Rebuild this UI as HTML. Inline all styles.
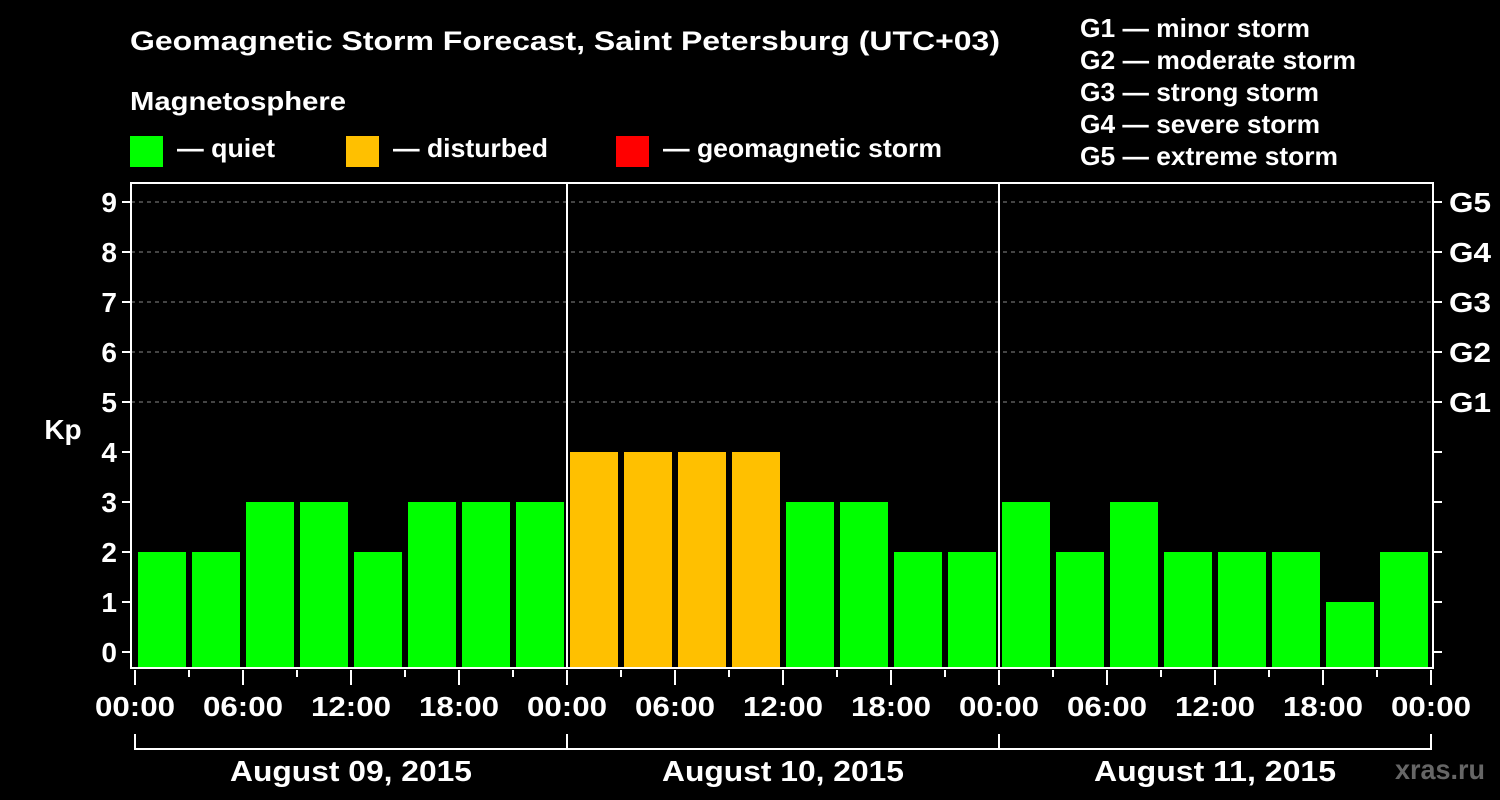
<!DOCTYPE html>
<html><head><meta charset="utf-8"><style>
html,body{margin:0;padding:0;background:#000;}
svg{display:block;font-family:"Liberation Sans",Arial,sans-serif;font-weight:bold;}
</style></head><body>
<svg id="c" width="1500" height="800" viewBox="0 0 1500 800">
<rect width="1500" height="800" fill="#000"/>
<text x="130" y="50" fill="#fff" font-size="27" textLength="870" lengthAdjust="spacingAndGlyphs">Geomagnetic Storm Forecast, Saint Petersburg (UTC+03)</text>
<text x="130" y="110" fill="#fff" font-size="26" textLength="216" lengthAdjust="spacingAndGlyphs">Magnetosphere</text>
<g><rect x="130" y="136" width="33" height="31" fill="#00ff00"/><text x="177" y="157" fill="#fff" font-size="26" textLength="98" lengthAdjust="spacingAndGlyphs">— quiet</text></g>
<g><rect x="346" y="136" width="33" height="31" fill="#ffc000"/><text x="393" y="157" fill="#fff" font-size="26" textLength="155" lengthAdjust="spacingAndGlyphs">— disturbed</text></g>
<g><rect x="616" y="136" width="33" height="31" fill="#ff0000"/><text x="663" y="157" fill="#fff" font-size="26" textLength="279" lengthAdjust="spacingAndGlyphs">— geomagnetic storm</text></g>
<g fill="#fff" font-size="26">
<text x="1080" y="37" textLength="230" lengthAdjust="spacingAndGlyphs">G1 — minor storm</text>
<text x="1080" y="69" textLength="276" lengthAdjust="spacingAndGlyphs">G2 — moderate storm</text>
<text x="1080" y="101" textLength="239" lengthAdjust="spacingAndGlyphs">G3 — strong storm</text>
<text x="1080" y="133" textLength="240" lengthAdjust="spacingAndGlyphs">G4 — severe storm</text>
<text x="1080" y="165" textLength="258" lengthAdjust="spacingAndGlyphs">G5 — extreme storm</text>
</g>
<text x="63" y="439" fill="#fff" font-size="28" text-anchor="middle">Kp</text>
<text x="1485" y="779" fill="#666" font-size="28" text-anchor="end" textLength="90" lengthAdjust="spacingAndGlyphs">xras.ru</text>
<g id="plot"></g>
</svg>
<script>
const kpValues=[2,2,3,3,2,3,3,3, 4,4,4,4,3,3,2,2, 3,2,3,2,2,2,1,2];
const dayLabels=["August 09, 2015","August 10, 2015","August 11, 2015"];
const timeLabels=["00:00","06:00","12:00","18:00"];
const gLabels=["G1","G2","G3","G4","G5"];
const yTicks=[0,1,2,3,4,5,6,7,8,9];

const NS="http://www.w3.org/2000/svg";
const g=document.getElementById('plot');
const L=131,R=1433,T=183,B=668,X0=135,DAY=432;
const y=v=>652-v*50;
const x=h=>X0+h*DAY/24;
function mk(t,a,p){const e=document.createElementNS(NS,t);for(const k in a)e.setAttribute(k,a[k]);(p||g).appendChild(e);return e;}
function color(v){return v>=5?'#ff0000':v>=4?'#ffc000':'#00ff00';}

yTicks.filter(v=>v>=5).forEach(v=>{
  const l=mk('line',{x1:L,x2:R,y1:y(v),y2:y(v),stroke:'#888','stroke-dasharray':'4,4','stroke-width':1});
  
  
});
kpValues.forEach((v,i)=>{
  const r=mk('rect',{x:x(i*3)+3,y:y(v),width:DAY/8-6,height:B-y(v),fill:color(v)});
  
  
});
for(let d=1;d<dayLabels.length;d++){
  const l=mk('line',{x1:x(d*24),x2:x(d*24),y1:T,y2:B,stroke:'#fff','stroke-width':2});
  
  
}
const fr=mk('rect',{x:L,y:T,width:R-L,height:B-T,fill:'none',stroke:'#fff','stroke-width':2});


yTicks.forEach(v=>{
  mk('line',{x1:L-9,x2:L,y1:y(v),y2:y(v),stroke:'#fff','stroke-width':2});
  mk('line',{x1:R,x2:R+9,y1:y(v),y2:y(v),stroke:'#fff','stroke-width':2});
  const t=mk('text',{x:117,y:y(v)+10,fill:'#fff','font-size':28,'text-anchor':'end'});
  t.textContent=v;
  
  
});
gLabels.forEach((s,i)=>{
  const t=mk('text',{x:1449,y:y(5+i)+10,fill:'#fff','font-size':28,textLength:42,lengthAdjust:'spacingAndGlyphs'});
  t.textContent=s;
  
  
});
const nDays=dayLabels.length;
for(let h=0;h<=nDays*24;h+=3){
  const major=h%6===0;
  mk('line',{x1:x(h),x2:x(h),y1:B+2,y2:major?B+17:B+9,stroke:'#fff','stroke-width':2});
  if(major){
    const t=mk('text',{x:x(h)-40,y:716,fill:'#fff','font-size':28,textLength:80,lengthAdjust:'spacingAndGlyphs'});
    t.textContent=timeLabels[(h/6)%4];
    
    
  }
}
mk('line',{x1:x(0),x2:x(nDays*24),y1:749,y2:749,stroke:'#fff','stroke-width':2});
for(let d=0;d<=nDays;d++) mk('line',{x1:x(d*24),x2:x(d*24),y1:734,y2:750,stroke:'#fff','stroke-width':2});
dayLabels.forEach((s,d)=>{
  const t=mk('text',{x:x(d*24+12)-121,y:781,fill:'#fff','font-size':29,textLength:242,lengthAdjust:'spacingAndGlyphs'});
  t.textContent=s;
  
  
});
</script>
</body></html>
